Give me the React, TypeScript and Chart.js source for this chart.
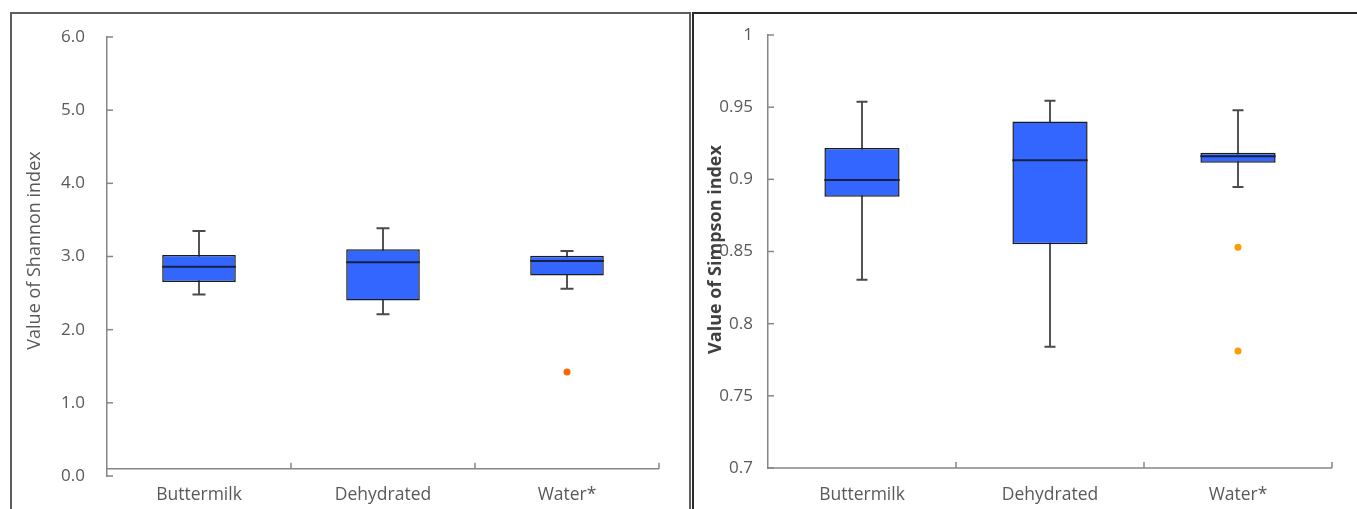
import React, { useEffect, useRef } from 'react';
import { Chart, registerables } from 'chart.js';

Chart.register(...registerables);

const categories = ['Buttermilk', 'Dehydrated', 'Water*'];

const shannonMin = [2.48, 2.21, 2.56];
const shannonQ1 = [2.65, 2.4, 2.74];
const shannonMedian = [2.86, 2.92, 2.94];
const shannonQ3 = [3.02, 3.1, 3.01];
const shannonMax = [3.35, 3.385, 3.075];
const shannonOutliers = [{ x: 'Water*', y: 1.42 }];

const simpsonMin = [0.8305, 0.784, 0.8947];
const simpsonQ1 = [0.888, 0.855, 0.9115];
const simpsonMedian = [0.8995, 0.9132, 0.916];
const simpsonQ3 = [0.9217, 0.94, 0.9185];
const simpsonMax = [0.9538, 0.9545, 0.9478];
const simpsonOutliers = [
  { x: 'Water*', y: 0.853 },
  { x: 'Water*', y: 0.781 },
];

type Spec = {
  min: number[];
  q1: number[];
  median: number[];
  q3: number[];
  max: number[];
  outliers: { x: string; y: number }[];
  outlierColor: string;
  yMin: number;
  yMax: number;
  yStep: number;
  fmt: (v: number) => string;
  crossValue: number;
  capWidth: number;
  title: string;
  titleFont: string;
  titleColor: string;
  titleX: number;
  titleDy: number;
  axisWidth: number;
  xAxisHeight: number;
  padTop: number;
  padRight: number;
  tickPad: number;
  xLabelPad: number;
  width: number;
  height: number;
  left: number;
  top: number;
};

const FONT = '"Open Sans", "DejaVu Sans", sans-serif';
const LABEL_COLOR = '#595959';
const AXIS_COLOR = '#868686';

const leftSpec: Spec = {
  min: shannonMin,
  q1: shannonQ1,
  median: shannonMedian,
  q3: shannonQ3,
  max: shannonMax,
  outliers: shannonOutliers,
  outlierColor: '#ff6400',
  yMin: 0,
  yMax: 6,
  yStep: 1,
  fmt: (v) => Number(v).toFixed(1),
  crossValue: 0.1,
  capWidth: 13,
  title: 'Value of Shannon index',
  titleFont: `18px ${FONT}`,
  titleColor: LABEL_COLOR,
  titleX: 23,
  titleDy: -6,
  axisWidth: 95,
  xAxisHeight: 33,
  padTop: 23,
  padRight: 29,
  tickPad: 22,
  xLabelPad: 9,
  width: 676,
  height: 495,
  left: 12,
  top: 14,
};

const rightSpec: Spec = {
  min: simpsonMin,
  q1: simpsonQ1,
  median: simpsonMedian,
  q3: simpsonQ3,
  max: simpsonMax,
  outliers: simpsonOutliers,
  outlierColor: '#ff9b00',
  yMin: 0.7,
  yMax: 1,
  yStep: 0.05,
  fmt: (v) => String(Number(Number(v).toFixed(2))),
  crossValue: 0.7,
  capWidth: 11,
  title: 'Value of Simpson index',
  titleFont: `bold 18px ${FONT}`,
  titleColor: '#404040',
  titleX: 22,
  titleDy: -2,
  axisWidth: 74,
  xAxisHeight: 41,
  padTop: 21,
  padRight: 25,
  tickPad: 15,
  xLabelPad: 17,
  width: 663,
  height: 495,
  left: 694,
  top: 14,
};

function BoxChart({ spec }: { spec: Spec }) {
  const ref = useRef<HTMLCanvasElement>(null);

  useEffect(() => {
    const canvas = ref.current;
    if (!canvas) return;

    const plugin = {
      id: 'boxExtras',
      beforeDatasetsDraw(chart: any) {
        const { ctx } = chart;
        const xs = chart.scales.x;
        const ys = chart.scales.y;
        ctx.save();
        categories.forEach((_, i) => {
          const x = xs.getPixelForValue(i);
          const yLo = ys.getPixelForValue(spec.min[i]);
          const yHi = ys.getPixelForValue(spec.max[i]);
          ctx.strokeStyle = '#1a1a1a';
          ctx.lineWidth = 1.5;
          ctx.beginPath();
          ctx.moveTo(x, yLo);
          ctx.lineTo(x, yHi);
          ctx.stroke();
          ctx.strokeStyle = '#4a4a4a';
          ctx.lineWidth = 2;
          ctx.beginPath();
          ctx.moveTo(x - spec.capWidth / 2, yLo);
          ctx.lineTo(x + spec.capWidth / 2, yLo);
          ctx.moveTo(x - spec.capWidth / 2, yHi);
          ctx.lineTo(x + spec.capWidth / 2, yHi);
          ctx.stroke();
        });
        ctx.restore();
      },
      afterDatasetsDraw(chart: any) {
        const { ctx } = chart;
        const ys = chart.scales.y;
        const meta = chart.getDatasetMeta(0);
        ctx.save();
        ctx.strokeStyle = '#16203f';
        ctx.lineWidth = 2;
        categories.forEach((_, i) => {
          const el = meta.data[i];
          const y = ys.getPixelForValue(spec.median[i]);
          ctx.beginPath();
          ctx.moveTo(el.x - el.width / 2, y);
          ctx.lineTo(el.x + el.width / 2, y);
          ctx.stroke();
        });
        ctx.restore();
      },
      afterDraw(chart: any) {
        const { ctx, chartArea } = chart;
        const xs = chart.scales.x;
        const ys = chart.scales.y;
        ctx.save();
        ctx.strokeStyle = AXIS_COLOR;
        ctx.lineWidth = 1.5;
        ys.ticks.forEach((t: any) => {
          const y = ys.getPixelForValue(t.value);
          ctx.beginPath();
          ctx.moveTo(chartArea.left, y);
          ctx.lineTo(chartArea.left + 6, y);
          ctx.stroke();
        });
        const yAxis = ys.getPixelForValue(spec.crossValue);
        ctx.beginPath();
        ctx.moveTo(chartArea.left, yAxis);
        ctx.lineTo(chartArea.right, yAxis);
        ctx.stroke();
        categories.forEach((_, i) => {
          const x = xs.getPixelForValue(i + 0.5);
          ctx.beginPath();
          ctx.moveTo(x, yAxis);
          ctx.lineTo(x, yAxis - 6);
          ctx.stroke();
        });
        ctx.fillStyle = spec.titleColor;
        ctx.font = spec.titleFont;
        ctx.textAlign = 'center';
        ctx.textBaseline = 'middle';
        ctx.translate(spec.titleX, (chartArea.top + chartArea.bottom) / 2 + spec.titleDy);
        ctx.rotate(-Math.PI / 2);
        ctx.fillText(spec.title, 0, 0);
        ctx.restore();
      },
    };

    const chart = new Chart(canvas, {
      type: 'bar',
      data: {
        labels: categories,
        datasets: [
          {
            type: 'bar',
            data: categories.map((_, i) => [spec.q1[i], spec.q3[i]]) as any,
            backgroundColor: '#3366ff',
            borderColor: '#1c1c1c',
            borderWidth: 1.5,
            borderSkipped: false,
            barPercentage: 0.4,
            categoryPercentage: 1,
          },
          {
            type: 'line',
            data: spec.outliers as any,
            showLine: false,
            pointRadius: 3.5,
            pointBackgroundColor: spec.outlierColor,
            pointBorderWidth: 0,
            pointBorderColor: spec.outlierColor,
          } as any,
        ],
      },
      options: {
        responsive: false,
        animation: false,
        layout: { padding: { top: spec.padTop, right: spec.padRight, left: 0, bottom: 0 } },
        plugins: { legend: { display: false }, tooltip: { enabled: false } },
        scales: {
          x: {
            type: 'category',
            offset: true,
            grid: { display: false, drawTicks: false },
            border: { display: false },
            ticks: { color: LABEL_COLOR, font: { family: FONT, size: 17.5 }, padding: spec.xLabelPad },
            afterFit: (s: any) => {
              s.height = spec.xAxisHeight;
              s.paddingLeft = 0;
              s.paddingRight = 0;
            },
          },
          y: {
            type: 'linear',
            min: spec.yMin,
            max: spec.yMax,
            ticks: {
              stepSize: spec.yStep,
              color: LABEL_COLOR,
              font: { family: FONT, size: 17 },
              padding: spec.tickPad,
              callback: (v: any) => spec.fmt(v),
            },
            grid: { display: false, drawTicks: false },
            border: { display: true, color: AXIS_COLOR, width: 1.5 },
            afterFit: (s: any) => {
              s.width = spec.axisWidth;
              s.paddingTop = 0;
              s.paddingBottom = 0;
            },
          },
        },
      } as any,
      plugins: [plugin],
    });

    return () => chart.destroy();
  }, [spec]);

  return (
    <canvas
      ref={ref}
      width={spec.width}
      height={spec.height}
      style={{
        position: 'absolute',
        left: spec.left,
        top: spec.top,
        width: spec.width,
        height: spec.height,
      }}
    />
  );
}

export default function App() {
  return (
    <div
      style={{
        position: 'fixed',
        left: 0,
        top: 0,
        width: 1357,
        height: 509,
        overflow: 'hidden',
        background: '#ffffff',
      }}
    >
      <div
        style={{
          position: 'absolute',
          left: 10,
          top: 12,
          width: 681,
          height: 540,
          border: '2px solid #5e5e5e',
          boxSizing: 'border-box',
        }}
      />
      <div
        style={{
          position: 'absolute',
          left: 692,
          top: 12,
          width: 720,
          height: 540,
          border: '2px solid #2a2a2a',
          boxSizing: 'border-box',
        }}
      />
      <BoxChart spec={leftSpec} />
      <BoxChart spec={rightSpec} />
    </div>
  );
}
